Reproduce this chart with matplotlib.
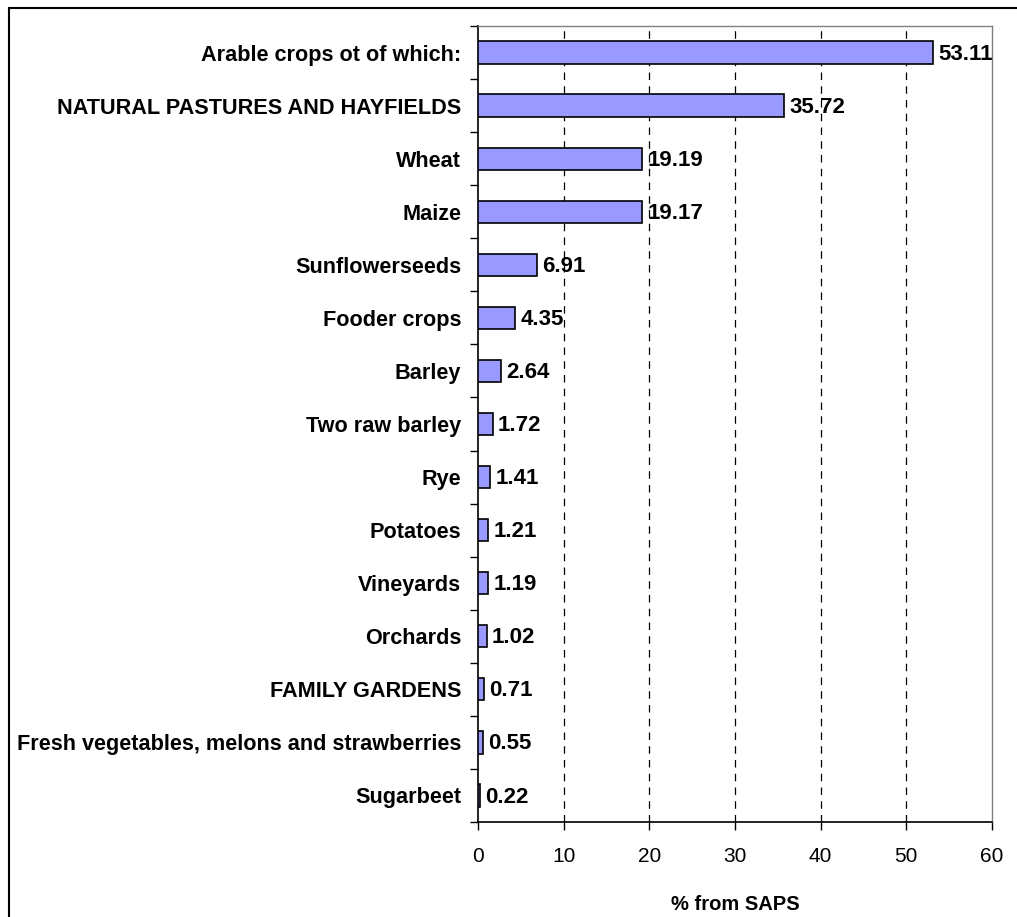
import matplotlib
matplotlib.use("Agg")
import matplotlib.pyplot as plt
from matplotlib.patches import Rectangle

categories = [
    "Arable crops ot of which:",
    "NATURAL PASTURES AND HAYFIELDS",
    "Wheat",
    "Maize",
    "Sunflowerseeds",
    "Fooder crops",
    "Barley",
    "Two raw barley",
    "Rye",
    "Potatoes",
    "Vineyards",
    "Orchards",
    "FAMILY GARDENS",
    "Fresh vegetables, melons and strawberries",
    "Sugarbeet",
]
values = [53.11, 35.72, 19.19, 19.17, 6.91, 4.35, 2.64, 1.72, 1.41, 1.21, 1.19, 1.02, 0.71, 0.55, 0.22]
value_labels = ["53.11", "35.72", "19.19", "19.17", "6.91", "4.35", "2.64", "1.72", "1.41", "1.21", "1.19", "1.02", "0.71", "0.55", "0.22"]
xticks = [0, 10, 20, 30, 40, 50, 60]

plt.rcParams['font.family'] = ['Liberation Sans', 'DejaVu Sans']

fig = plt.figure(figsize=(10.17, 9.17), dpi=100)
ax = fig.add_axes([478/1017, 1-822/917, (992-478)/1017, (822-26)/917])

n = len(categories)
ypos = list(range(n))
ax.barh(ypos, values, height=0.42, color="#9999FF", edgecolor="black", linewidth=1.2, zorder=3)
ax.set_ylim(n - 0.5, -0.5)
ax.set_xlim(0, 60)

ax.set_xticks(xticks)
ax.set_xticklabels([str(t) for t in xticks], fontsize=15)
ax.set_yticks(ypos)
ax.set_yticklabels(categories, fontsize=15.6, fontweight="bold")
ax.set_yticks([i + 0.5 for i in range(-1, n)], minor=True)
ax.tick_params(axis="y", which="major", length=0, pad=12)
ax.tick_params(axis="y", which="minor", length=6, width=1, direction="out")
ax.tick_params(axis="x", length=6, width=1, direction="out", pad=12)

for x in xticks[1:-1]:
    ax.axvline(x, color="black", linestyle=(0, (6, 5)), linewidth=0.9, zorder=1)

for y, v, lab in zip(ypos, values, value_labels):
    ax.text(v + 0.6, y + 0.03, lab, va="center", ha="left", fontsize=16, fontweight="bold", zorder=4)

ax.set_xlabel("% from SAPS", fontsize=14.5, fontweight="bold", labelpad=21)

for side in ["top", "right"]:
    ax.spines[side].set_color("#808080")
    ax.spines[side].set_linewidth(1)
for side in ["left", "bottom"]:
    ax.spines[side].set_color("black")
    ax.spines[side].set_linewidth(1.2)

fig.patches.append(Rectangle((9/1017, -0.1), 1.2, 1 - 8/917 + 0.1, transform=fig.transFigure,
                             fill=False, edgecolor="black", linewidth=1.5))

fig.savefig("out.png", dpi=100)
